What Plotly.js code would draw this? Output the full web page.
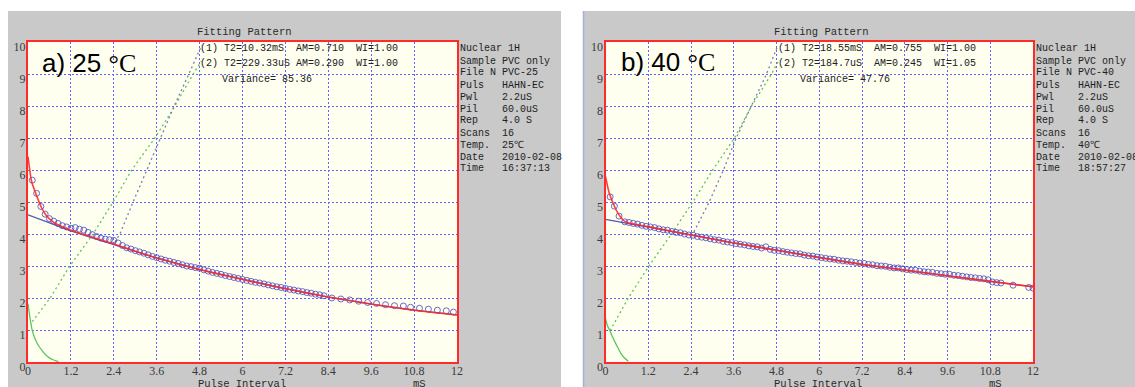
<!DOCTYPE html>
<html>
<head>
<meta charset="utf-8">
<script src="https://cdn.plot.ly/plotly-3.0.1.min.js"></script>
<style>html,body{margin:0;padding:0;background:#fff;}#chart{width:1135px;height:387px;}</style>
</head>
<body>
<div id="chart"></div>
<script>
// ---------------- data ----------------
const xTickVals = [0, 1.2, 2.4, 3.6, 4.8, 6, 7.2, 8.4, 9.6, 10.8, 12];
const xTickText = ["0", "1.2", "2.4", "3.6", "4.8", "6", "7.2", "8.4", "9.6", "10.8", "12"];
const yTickVals = [0, 1, 2, 3, 4, 5, 6, 7, 8, 9, 10];
const yTickText = ["0", "1", "2", "3", "4", "5", "6", "7", "8", "9", "10"];

// panel a) 25 °C
const aFitX = [0, 0.1, 0.24, 0.38, 0.52, 0.7, 0.85, 1.2, 1.8, 2.4, 3.0, 3.6, 4.2, 4.8, 5.4, 6.0, 6.6, 7.2, 7.8, 8.4, 9.0, 9.6, 10.2, 10.8, 11.4, 12];
const aFitY = [6.42, 5.65, 5.2, 4.82, 4.56, 4.38, 4.28, 4.12, 3.9, 3.69, 3.46, 3.25, 3.06, 2.89, 2.73, 2.58, 2.43, 2.29, 2.16, 2.03, 1.92, 1.81, 1.71, 1.62, 1.54, 1.47];
const aLongX = [0, 0.6, 1.2, 1.8, 2.4, 3.6, 4.8, 6.0, 7.2, 8.4, 9.6, 10.8, 12];
const aLongY = [4.6, 4.34, 4.1, 3.88, 3.67, 3.25, 2.89, 2.58, 2.29, 2.03, 1.81, 1.62, 1.47];
const aShortX = [0, 0.06, 0.12, 0.2, 0.3, 0.4, 0.5, 0.6, 0.7, 0.85];
const aShortY = [1.82, 1.35, 0.98, 0.72, 0.5, 0.35, 0.22, 0.13, 0.07, 0.01];
const aShortDotX = [0.12, 0.62, 1.17, 1.82, 2.38, 2.9, 3.55, 4.11, 4.62, 4.85];
const aShortDotY = [1.26, 2.0, 3.0, 4.0, 5.0, 6.0, 7.0, 8.0, 9.0, 9.4];
const aLongDotX = [2.43, 2.57, 2.94, 3.32, 3.7, 4.09, 4.5, 4.86];
const aLongDotY = [3.75, 4.0, 5.0, 6.0, 7.0, 8.0, 9.0, 9.9];
const aDataX = [0.12, 0.24, 0.36, 0.48, 0.6, 0.72, 0.84, 0.96, 1.08, 1.2, 1.32, 1.44, 1.56, 1.68, 1.8, 1.92, 2.04, 2.16, 2.28, 2.4,
  2.52, 2.64, 2.76, 2.88, 3.0, 3.12, 3.24, 3.36, 3.48, 3.6, 3.72, 3.84, 3.96, 4.08, 4.2, 4.32, 4.44, 4.56, 4.68, 4.8,
  4.92, 5.04, 5.16, 5.28, 5.4, 5.52, 5.64, 5.76, 5.88, 6.0, 6.12, 6.24, 6.36, 6.48, 6.6, 6.72, 6.84, 6.96, 7.08, 7.2,
  7.32, 7.44, 7.56, 7.68, 7.8, 7.92, 8.04, 8.16, 8.28, 8.5, 8.75, 9.0, 9.25, 9.5, 9.75, 10.0, 10.25, 10.5, 10.7, 10.95,
  11.2, 11.45, 11.7, 11.9];
const aDataY = [5.68, 5.27, 4.86, 4.62, 4.48, 4.4, 4.33, 4.26, 4.22, 4.18, 4.2, 4.15, 4.12, 4.05, 3.98, 3.92, 3.87, 3.84, 3.82, 3.8,
  3.72, 3.64, 3.57, 3.53, 3.48, 3.44, 3.4, 3.35, 3.3, 3.26, 3.22, 3.18, 3.15, 3.11, 3.08, 3.04, 3.0, 2.98, 2.95, 2.93,
  2.88, 2.84, 2.8, 2.77, 2.74, 2.7, 2.67, 2.64, 2.61, 2.58, 2.55, 2.52, 2.49, 2.47, 2.44, 2.41, 2.38, 2.35, 2.33, 2.3,
  2.27, 2.25, 2.22, 2.2, 2.17, 2.15, 2.12, 2.1, 2.07, 2.0, 1.97, 1.94, 1.9, 1.86, 1.83, 1.79, 1.76, 1.75, 1.71, 1.68,
  1.65, 1.62, 1.6, 1.56];

// panel b) 40 °C
const bFitX = [0, 0.1, 0.2, 0.3, 0.4, 0.5, 0.6, 0.8, 1.2, 2.4, 3.6, 4.8, 6.0, 7.2, 8.4, 9.6, 10.8, 12];
const bFitY = [5.8, 5.3, 5.0, 4.75, 4.56, 4.43, 4.36, 4.31, 4.23, 3.97, 3.72, 3.49, 3.26, 3.05, 2.87, 2.69, 2.52, 2.35];
const bLongX = [0, 0.6, 1.2, 2.4, 3.6, 4.8, 6.0, 7.2, 8.4, 9.6, 10.8, 12];
const bLongY = [4.46, 4.34, 4.23, 3.97, 3.72, 3.49, 3.26, 3.05, 2.87, 2.69, 2.52, 2.35];
const bShortX = [0, 0.05, 0.13, 0.2, 0.28, 0.36, 0.43, 0.52, 0.64];
const bShortY = [1.36, 1.15, 0.96, 0.78, 0.59, 0.42, 0.27, 0.14, 0.02];
const bShortDotX = [0.13, 0.64, 1.22, 1.85, 2.45, 3.01, 3.62, 4.1, 4.66, 4.85];
const bShortDotY = [0.98, 2.0, 3.0, 4.0, 5.0, 6.0, 7.0, 8.0, 9.0, 9.4];
const bLongDotX = [2.38, 2.45, 2.91, 3.31, 3.67, 4.1, 4.52, 4.84];
const bLongDotY = [3.98, 4.0, 5.0, 6.0, 7.0, 8.0, 9.0, 9.9];
const bDataX = [0.13, 0.25, 0.38, 0.54, 0.66, 0.78, 0.9, 1.02, 1.14, 1.26, 1.38, 1.5, 1.62, 1.74, 1.86, 1.98, 2.1, 2.22, 2.34, 2.46,
  2.58, 2.7, 2.82, 2.94, 3.06, 3.18, 3.3, 3.42, 3.54, 3.66, 3.78, 3.9, 4.02, 4.14, 4.26, 4.38, 4.5, 4.62, 4.74, 4.86,
  4.98, 5.1, 5.22, 5.34, 5.46, 5.58, 5.7, 5.82, 5.94, 6.06, 6.18, 6.3, 6.42, 6.54, 6.66, 6.78, 6.9, 7.02, 7.14, 7.26,
  7.38, 7.5, 7.62, 7.74, 7.86, 7.98, 8.1, 8.22, 8.34, 8.46, 8.58, 8.7, 8.82, 8.94, 9.06, 9.18, 9.3, 9.42, 9.54, 9.66,
  9.78, 9.9, 10.02, 10.14, 10.26, 10.38, 10.5, 10.62, 10.74, 10.86, 10.98, 11.1, 11.44, 11.88, 12.0];
const bDataY = [5.16, 4.87, 4.56, 4.38, 4.36, 4.33, 4.31, 4.27, 4.24, 4.22, 4.2, 4.16, 4.13, 4.12, 4.08, 4.05, 4.04, 4.0, 3.97, 3.96,
  3.92, 3.9, 3.88, 3.85, 3.82, 3.81, 3.77, 3.75, 3.73, 3.7, 3.68, 3.66, 3.63, 3.61, 3.6, 3.56, 3.6, 3.52, 3.49, 3.48,
  3.45, 3.43, 3.41, 3.39, 3.38, 3.34, 3.32, 3.31, 3.28, 3.26, 3.24, 3.22, 3.21, 3.18, 3.16, 3.15, 3.13, 3.11, 3.09, 3.08,
  3.05, 3.04, 3.01, 3.0, 2.99, 2.96, 2.94, 2.94, 2.91, 2.89, 2.87, 2.87, 2.84, 2.82, 2.81, 2.8, 2.77, 2.76, 2.74, 2.74,
  2.71, 2.7, 2.68, 2.66, 2.64, 2.63, 2.61, 2.6, 2.57, 2.5, 2.48, 2.47, 2.4, 2.33, 2.31];

const aHeader = ["(1) T2=10.32mS  AM=0.710  WI=1.00", "(2) T2=229.33uS AM=0.290  WI=1.00", "Variance= 85.36"];
const bHeader = ["(1) T2=18.55mS  AM=0.755  WI=1.00", "(2) T2=184.7uS  AM=0.245  WI=1.05", "Variance= 47.76"];
const aInfo = ["Nuclear 1H", "Sample PVC only", "File N PVC-25", "Puls   HAHN-EC", "Pwl    2.2uS", "Pil    60.0uS",
  "Rep    4.0 S", "Scans  16", "Temp.  25℃", "Date   2010-02-08", "Time   16:37:13"];
const bInfo = ["Nuclear 1H", "Sample PVC only", "File N PVC-40", "Puls   HAHN-EC", "Pwl    2.2uS", "Pil    60.0uS",
  "Rep    4.0 S", "Scans  16", "Temp.  40℃", "Date   2010-02-08", "Time   18:57:27"];
const chartTitle = "Fitting Pattern";
const xTitle = "Pulse Interval";
const xUnit = "mS";
const aLabel = "a) 25 ";
const bLabel = "b) 40 ";
const degC = "°C";

// ---------------- drawing ----------------
const W = 1135, H = 387;
const px = v => v / W;
const py = v => 1 - v / H;
const nb = s => s.replace(/ /g, "\u00a0");
const MONO = "Liberation Mono, DejaVu Sans Mono, monospace";
const SERIF = "Liberation Serif, DejaVu Serif, serif";

const RED = "#ff2a2a", BLUE_LINE = "#5656b8", GREEN = "#5cc45c", PURPLE_DOT = "#7a7ab8", CIRC = "#4646c0";

function panelTraces(xa, ya, d) {
  return [
    {x: d.sdx, y: d.sdy, xaxis: xa, yaxis: ya, mode: "lines", line: {color: GREEN, width: 1.3, dash: "2px,3px"}, hoverinfo: "skip"},
    {x: d.ldx, y: d.ldy, xaxis: xa, yaxis: ya, mode: "lines", line: {color: PURPLE_DOT, width: 1.3, dash: "2px,3px"}, hoverinfo: "skip"},
    {x: d.sx, y: d.sy, xaxis: xa, yaxis: ya, mode: "lines", line: {color: GREEN, width: 1.3, shape: "spline"}, hoverinfo: "skip"},
    {x: d.lx, y: d.ly, xaxis: xa, yaxis: ya, mode: "lines", line: {color: BLUE_LINE, width: 1.3}, hoverinfo: "skip"},
    {x: d.dx, y: d.dy, xaxis: xa, yaxis: ya, mode: "markers", marker: {symbol: "circle-open", size: 6, color: CIRC, opacity: 0.8, line: {width: 1}}, hoverinfo: "skip"},
    {x: d.fx, y: d.fy, xaxis: xa, yaxis: ya, mode: "lines", line: {color: RED, width: 1.6, shape: "spline", smoothing: 0.6}, opacity: 0.9, hoverinfo: "skip"}
  ];
}

const data = [].concat(
  panelTraces("x", "y", {sdx: aShortDotX, sdy: aShortDotY, ldx: aLongDotX, ldy: aLongDotY, sx: aShortX, sy: aShortY,
    lx: aLongX, ly: aLongY, dx: aDataX, dy: aDataY, fx: aFitX, fy: aFitY}),
  panelTraces("x2", "y2", {sdx: bShortDotX, sdy: bShortDotY, ldx: bLongDotX, ldy: bLongDotY, sx: bShortX, sy: bShortY,
    lx: bLongX, ly: bLongY, dx: bDataX, dy: bDataY, fx: bFitX, fy: bFitY})
);

function xAxis(domain, anchor) {
  return {domain: domain, anchor: anchor, range: [0, 12], tickmode: "array", tickvals: xTickVals, ticktext: xTickText,
    showgrid: true, gridcolor: "#6262ff", gridwidth: 1, griddash: "2px,2px", zeroline: false,
    showline: true, mirror: true, linecolor: RED, linewidth: 2, ticks: "", ticklabelstandoff: -3,
    tickfont: {family: SERIF, size: 12, color: "#3a3a3a"}, fixedrange: true};
}
function yAxis(domain, anchor) {
  return {domain: domain, anchor: anchor, range: [0, 10], tickmode: "array", tickvals: yTickVals, ticktext: yTickText,
    showgrid: true, gridcolor: "#6262ff", gridwidth: 1, griddash: "2px,2px", zeroline: false,
    showline: true, mirror: true, linecolor: RED, linewidth: 2, ticks: "", ticklabelshift: 5, ticklabelstandoff: -2,
    tickfont: {family: SERIF, size: 12, color: "#3a3a3a"}, fixedrange: true};
}

const panels = [
  {gx0: 8, gx1: 561, left: 28, right: 457, header: aHeader, info: aInfo, label: aLabel, labelX: 42, labelY: 63},
  {gx0: 583, gx1: 1135, left: 605.5, right: 1033, header: bHeader, info: bInfo, label: bLabel, labelX: 621, labelY: 62}
];
const TOP = 42, BOTTOM = 362;

const shapes = [];
const annotations = [];
function txt(x, y, text, size, color, anchor, family) {
  annotations.push({xref: "paper", yref: "paper", x: px(x), y: py(y), text: text, showarrow: false,
    xanchor: anchor || "left", yanchor: "middle", borderpad: 0, borderwidth: 0,
    font: {family: family || MONO, size: size, color: color}});
}
panels.forEach(p => {
  shapes.push({type: "rect", xref: "paper", yref: "paper", x0: px(p.gx0), x1: px(p.gx1), y0: 0, y1: py(11),
    fillcolor: "#c9c9c9", line: {width: 0}, layer: "below"});
  shapes.push({type: "rect", xref: "paper", yref: "paper", x0: px(p.left), x1: px(p.right), y0: py(BOTTOM), y1: py(TOP),
    fillcolor: "#fffff0", line: {width: 0}, layer: "below"});
  const mid = (p.left + p.right) / 2;
  txt(mid + 2, 32, nb(chartTitle), 10.5, "#2a2a2a", "center");
  txt(p.left + 172, 48, nb(p.header[0]), 10, "#202020");
  txt(p.left + 172, 63.5, nb(p.header[1]), 10, "#202020");
  txt(p.left + 194, 79.5, nb(p.header[2]), 10, "#202020");
  p.info.forEach((s, i) => txt(p.right + 3, 49 + 12 * i, nb(s), 10, "#1e1e1e"));
  txt(mid - 1, 384, nb(xTitle), 10.5, "#2a2a2a", "center");
  txt(p.left + 10.95 * (p.right - p.left) / 12, 384, xUnit, 10.5, "#2a2a2a", "center");
  annotations.push({xref: "paper", yref: "paper", x: px(p.labelX), y: py(p.labelY), showarrow: false,
    xanchor: "left", yanchor: "middle", borderpad: 0, borderwidth: 0,
    text: p.label + '<span style="font-family:Liberation Serif">' + degC + '</span>',
    font: {family: "Liberation Sans, Arial, sans-serif", size: 26, color: "#000000"}});
});
shapes.push({type: "line", xref: "paper", yref: "paper", x0: px(583.5), x1: px(583.5), y0: 0, y1: py(11),
  line: {color: "#9fb2d8", width: 1.5}, layer: "below"});

const layout = {
  width: W, height: H, margin: {l: 0, r: 0, t: 0, b: 0, pad: 0},
  paper_bgcolor: "#ffffff", plot_bgcolor: "#fffff0", showlegend: false,
  xaxis: xAxis([px(28), px(457)], "y"),
  yaxis: yAxis([py(BOTTOM), py(TOP)], "x"),
  xaxis2: xAxis([px(605.5), px(1033)], "y2"),
  yaxis2: yAxis([py(BOTTOM), py(TOP)], "x2"),
  shapes: shapes, annotations: annotations
};

Plotly.newPlot("chart", data, layout, {displayModeBar: false, staticPlot: true});
</script>
</body>
</html>
